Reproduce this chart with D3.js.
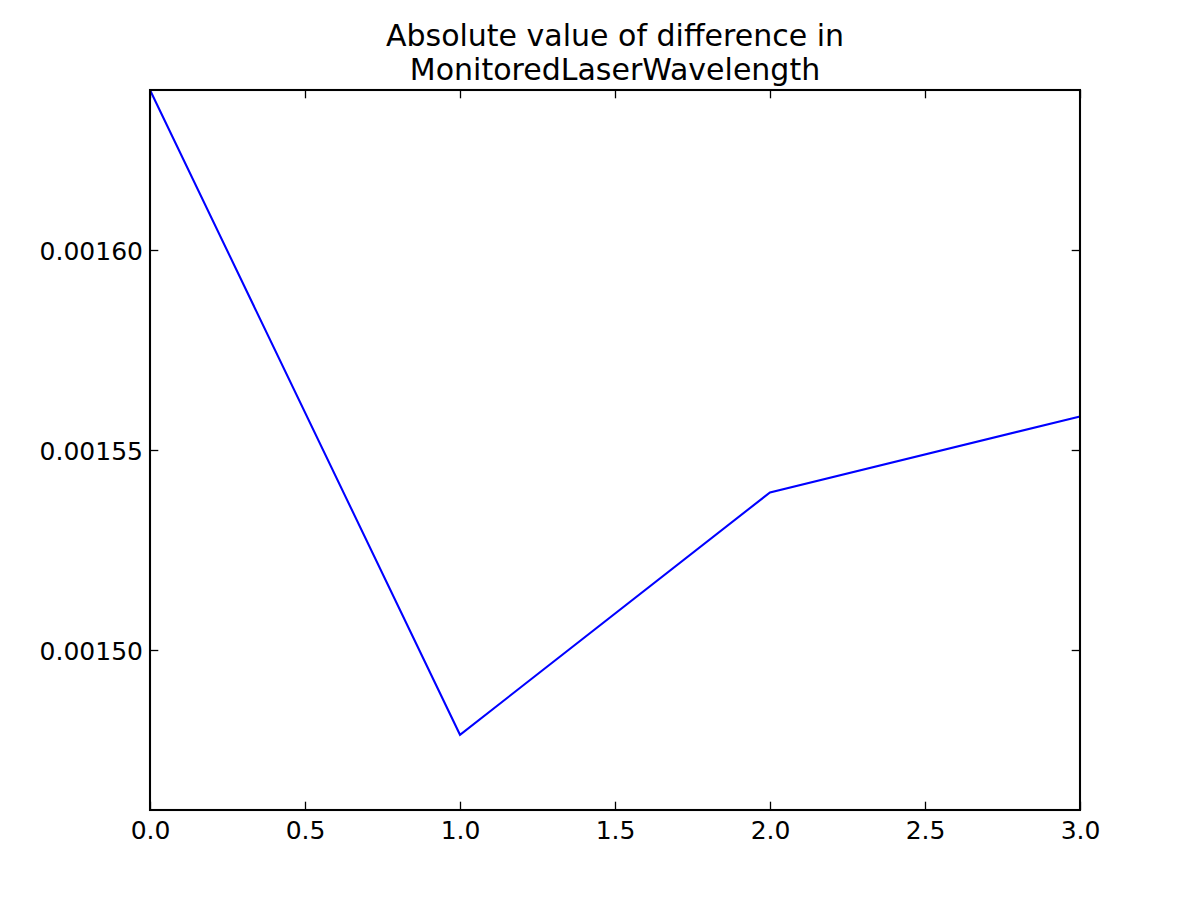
<!DOCTYPE html>
<html><head><meta charset="utf-8">
<script src="https://cdn.jsdelivr.net/npm/d3@7"></script>
<style>body{margin:0;background:#fff}svg{display:block}text{font-family:"DejaVu Sans",sans-serif}</style>
</head><body>
<svg id="c" width="1200" height="900"></svg>
<script>
const xValues = [0, 1, 2, 3];
const yValues = [0.00164, 0.0014788, 0.0015394, 0.0015584];
const xTicks = [0, 0.5, 1, 1.5, 2, 2.5, 3];
const yTicks = [0.00150, 0.00155, 0.00160];
const titleLines = ["Absolute value of difference in", "MonitoredLaserWavelength"];

(function(){
const svg = d3.select("#c");
const L = 150, R = 1080, T = 90, B = 810;
const x = d3.scaleLinear().domain([0, 3]).range([L, R]);
const y = d3.scaleLinear().domain([0.00146, 0.00164]).range([B, T]);

svg.append("rect").attr("width",1200).attr("height",900).attr("fill","#fff");

const line = d3.line().x((d,i)=>x(xValues[i])).y(d=>y(d));
svg.append("path").datum(yValues).attr("d", line).attr("fill","none")
  .attr("stroke","#0000ff").attr("stroke-width",2.08).attr("stroke-linejoin","miter");

const tl = 8.3;
const fx = d3.format(".1f"), fy = d3.format(".5f");
const gBottom = svg.append("g").attr("transform",`translate(0,${B})`)
  .call(d3.axisBottom(x).tickValues(xTicks).tickSize(-tl).tickPadding(10).tickFormat(fx));
const gTop = svg.append("g").attr("transform",`translate(0,${T})`)
  .call(d3.axisTop(x).tickValues(xTicks).tickSize(-tl).tickFormat(""));
const gLeft = svg.append("g").attr("transform",`translate(${L},0)`)
  .call(d3.axisLeft(y).tickValues(yTicks).tickSize(-tl).tickPadding(7).tickFormat(fy));
const gRight = svg.append("g").attr("transform",`translate(${R},0)`)
  .call(d3.axisRight(y).tickValues(yTicks).tickSize(-tl).tickFormat(""));
[gBottom, gTop, gLeft, gRight].forEach(g=>{
  g.select(".domain").remove();
  g.selectAll(".tick line").attr("stroke","#000").attr("stroke-width",1.3);
  g.selectAll(".tick text").attr("fill","#000").attr("font-size","25px").attr("font-family","DejaVu Sans");
});
gBottom.selectAll(".tick text").attr("dy","0.76em");
gLeft.selectAll(".tick text").attr("dy","0.36em");

svg.append("rect").attr("x",L).attr("y",T).attr("width",R-L).attr("height",B-T)
  .attr("fill","none").attr("stroke","#000").attr("stroke-width",2.08);

svg.append("g").selectAll("text").data(titleLines).join("text")
  .attr("x",(L+R)/2).attr("y",(d,i)=>46+i*34).attr("text-anchor","middle")
  .attr("font-size","30px").attr("fill","#000").text(d=>d);
})();
</script>
</body></html>
